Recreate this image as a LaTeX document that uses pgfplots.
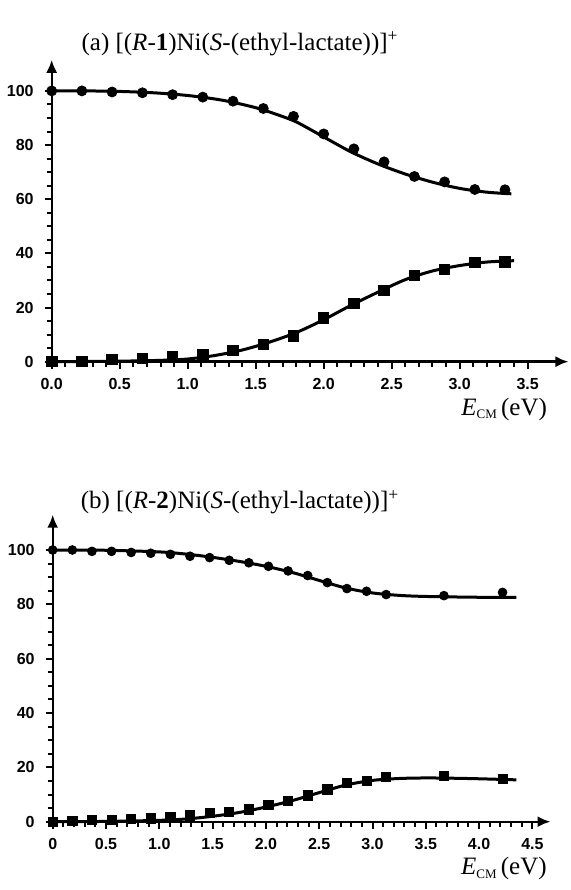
\documentclass[border=0pt]{standalone}
\usepackage{fontspec}
\setmainfont{Liberation Serif}
\newfontfamily\tickfont{Liberation Sans}
\usepackage{pgfplots}
\pgfplotsset{compat=1.18}
\usetikzlibrary{arrows.meta}

\pgfplotsset{
  kinetic/.style={
    axis lines=left,
    axis line style={line width=1.2pt,-{Latex[length=6.5pt,width=5.5pt]}},
    tick align=outside,
    major tick length=3.5pt, minor tick length=2.5pt,
    tick style={black,line width=1pt},
    minor x tick num=4, minor y tick num=3,
    ymin=0, ytick={0,20,...,100},
    /pgf/number format/assume math mode=true,
    ticklabel style={font=\tickfont\bfseries\fontsize{8}{9}\selectfont},
    xticklabel style={yshift=-1.2pt},
    yticklabel style={xshift=-2pt},
    clip=false,
    anchor=south west,
  },
  pts/.style={only marks,black,mark=*,mark size=2.5pt},
  sqs/.style={only marks,black,mark=square*,mark size=2.6pt},
  fit/.style={black,line width=1.5pt,smooth,no marks},
}

\begin{document}
\begin{tikzpicture}
\useasboundingbox (0,0) rectangle (285pt,445pt);

% (a)
\begin{axis}[kinetic,
  at={(25.85pt,264.15pt)},
  x=68pt, y=1.354pt,
  xmin=0, xmax=3.8, ymax=111.5,
  xtick={0,0.5,...,3.5},
  xticklabels={0.0,0.5,1.0,1.5,2.0,2.5,3.0,3.5},
]
\addplot[fit] coordinates {
  (0,100) (0.25,100) (0.5,99.8) (0.75,99.3) (1.0,98.3) (1.25,96.6)
  (1.5,93.8) (1.7,90.5) (1.8,88.5) (1.9,85.8) (2.0,83.0) (2.2,77.5)
  (2.4,73.0) (2.6,69.3) (2.8,66.3) (3.0,64.0) (3.2,62.6) (3.38,62.0)};
\addplot[fit] coordinates {
  (0,0) (0.5,0.2) (0.8,0.5) (1.0,1.0) (1.2,2.3) (1.4,4.3) (1.6,7.2)
  (1.8,10.8) (2.0,15.5) (2.2,20.8) (2.4,25.7) (2.6,30.3) (2.8,33.5)
  (3.0,35.5) (3.2,36.8) (3.4,37.3)};
\addplot[pts] coordinates {
  (0,100) (0.222,100) (0.444,99.6) (0.667,99.3) (0.889,98.6) (1.111,97.7)
  (1.333,96.2) (1.556,93.5) (1.778,90.6) (2.0,84.1) (2.222,78.6)
  (2.444,73.8) (2.667,68.4) (2.889,66.4) (3.111,63.6) (3.333,63.5)};
\addplot[sqs] coordinates {
  (0,0) (0.222,0) (0.444,0.9) (0.667,1.2) (0.889,1.8) (1.111,2.7)
  (1.333,4.1) (1.556,6.4) (1.778,9.6) (2.0,16.2) (2.222,21.5)
  (2.444,26.4) (2.667,31.9) (2.889,34.1) (3.111,36.7) (3.333,36.9)};
\node[anchor=base,font=\fontsize{12.5}{14}\selectfont] at (axis cs:1.385,115.1)
  {(a) [(\textit{R}-\textbf{1})Ni(\textit{S}-(ethyl-lactate))]\textsuperscript{+}};
\node[anchor=base east,font=\fontsize{12.5}{14}\selectfont] at (axis cs:3.693,-19.7)
  {\textit{E}\raisebox{-0.3ex}{\fontsize{6.5}{8}\selectfont CM}\,(eV)};
\end{axis}

% (b)
\begin{axis}[kinetic,
  at={(26.35pt,34.15pt)},
  x=53.3pt, y=1.3585pt,
  xmin=0, xmax=4.67, ymax=113,
  xtick={0,0.5,...,4.5},
  xticklabels={0,0.5,1.0,1.5,2.0,2.5,3.0,3.5,4.0,4.5},
  pts/.append style={mark size=2.2pt},
  sqs/.append style={mark size=2.3pt},
]
\addplot[fit] coordinates {
  (0,100) (0.5,99.9) (1.0,99.3) (1.25,98.5) (1.5,97.3) (1.75,95.8)
  (2.0,94.0) (2.25,91.7) (2.5,88.8) (2.75,86.0) (3.0,84.2) (3.25,83.3)
  (3.5,82.9) (4.0,82.6) (4.35,82.6)};
\addplot[fit] coordinates {
  (0,0) (0.5,0.1) (1.0,0.5) (1.25,1.0) (1.5,2.0) (1.75,3.4) (2.0,5.4)
  (2.25,7.8) (2.5,10.7) (2.75,13.5) (3.0,15.2) (3.25,15.9) (3.5,16.1)
  (3.75,16.0) (4.0,15.8) (4.35,15.4)};
\addplot[pts] coordinates {
  (0,100) (0.184,100) (0.368,99.5) (0.552,99.5) (0.736,99.1) (0.92,98.8)
  (1.104,98.4) (1.288,97.7) (1.472,97.2) (1.656,96.2) (1.84,95.3)
  (2.024,94.0) (2.208,92.3) (2.392,90.6) (2.576,88.0) (2.76,85.8)
  (2.944,84.8) (3.128,83.6) (3.67,83.2) (4.22,84.4)};
\addplot[sqs] coordinates {
  (0,0) (0.184,0.2) (0.368,0.6) (0.552,0.6) (0.736,1.0) (0.92,1.2)
  (1.104,1.6) (1.288,2.3) (1.472,3.1) (1.656,3.7) (1.84,4.5)
  (2.024,6.1) (2.208,7.7) (2.392,9.7) (2.576,11.9) (2.76,14.4)
  (2.944,15.0) (3.128,16.4) (3.67,16.8) (4.22,15.7)};
\node[anchor=base,font=\fontsize{12.5}{14}\selectfont] at (axis cs:1.757,115.1)
  {(b) [(\textit{R}-\textbf{2})Ni(\textit{S}-(ethyl-lactate))]\textsuperscript{+}};
\node[anchor=base east,font=\fontsize{12.5}{14}\selectfont] at (axis cs:4.70,-19.6)
  {\textit{E}\raisebox{-0.3ex}{\fontsize{6.5}{8}\selectfont CM}\,(eV)};
\end{axis}
\end{tikzpicture}
\end{document}
